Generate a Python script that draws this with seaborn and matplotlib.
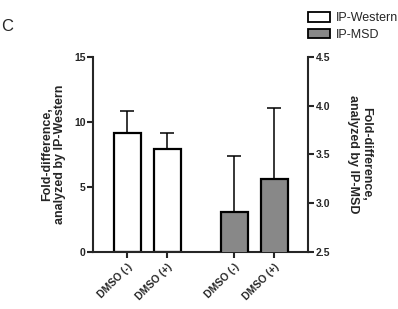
import seaborn as sns
import matplotlib.pyplot as plt
from matplotlib.patches import Patch
import numpy as np

# datos
labels = ["DMSO (-)", "DMSO (+)", "DMSO (-)", "DMSO (+)"]
western_mean = [9.15, 7.9]
western_err = [1.65, 1.25]
msd_mean = [2.91, 3.25]
msd_err = [0.57, 0.73]

sns.set_style("ticks")
plt.rcParams["font.family"] = ["Liberation Sans", "DejaVu Sans"]

fig = plt.figure(figsize=(3.98, 3.09), dpi=100)
ax = fig.add_axes([0.234, 0.185, 0.54, 0.631])
ax2 = ax.twinx()

w = 0.675
pos_w = np.array([0.0, 1.0])
pos_m = pos_w + 1.675 + 1.0

sns.barplot(x=pos_w, y=western_mean, native_scale=True, width=w, color="white",
            edgecolor="black", linewidth=1.6, errorbar=None, ax=ax)
ax.errorbar(pos_w, western_mean, yerr=[np.zeros(2), western_err], fmt="none",
            ecolor="black", elinewidth=1.1, capsize=4.8, capthick=1.1, zorder=1)
sns.barplot(x=pos_m, y=msd_mean, native_scale=True, width=w, color="#888888",
            saturation=1, edgecolor="black", linewidth=1.6, errorbar=None, ax=ax2)
ax2.errorbar(pos_m, msd_mean, yerr=[np.zeros(2), msd_err], fmt="none",
             ecolor="black", elinewidth=1.1, capsize=4.8, capthick=1.1, zorder=1)

ax.set_ylim(0, 15)
ax.set_yticks([0, 5, 10, 15])
ax2.set_ylim(2.5, 4.5)
ax2.set_yticks([2.5, 3.0, 3.5, 4.0, 4.5])
ax2.set_yticklabels(["2.5", "3.0", "3.5", "4.0", "4.5"])
ax.set_xlim(-0.85, pos_m[-1] + 0.85)
ax2.set_xlim(-0.85, pos_m[-1] + 0.85)

ax.set_xticks(np.concatenate([pos_w, pos_m]))
ax.set_xticklabels(labels, rotation=45, ha="right", rotation_mode="anchor",
                   fontsize=7.5, fontweight="bold")
for t in ax.get_yticklabels() + ax2.get_yticklabels():
    t.set_fontweight("bold")
    t.set_fontsize(7.5)

for a in (ax, ax2):
    for s in a.spines.values():
        s.set_linewidth(1.5)
    a.tick_params(width=1.5, length=4, pad=1.5)
ax.tick_params(axis="x", pad=3)
ax.spines["top"].set_visible(False)
ax.spines["right"].set_visible(False)
ax2.spines["top"].set_visible(False)
ax2.spines["left"].set_visible(False)
ax2.spines["bottom"].set_visible(False)

ax.set_xlabel("")
ax.set_ylabel("Fold-difference,\nanalyzed by IP-Western", fontsize=9,
              fontweight="bold", labelpad=6, linespacing=1.1)
ax2.set_ylabel("Fold-difference,\nanalyzed by IP-MSD", fontsize=9,
               fontweight="bold", rotation=270, labelpad=30, linespacing=1.1)

fig.text(0.003, 0.9, "C", fontsize=12)

handles = [Patch(facecolor="white", edgecolor="black", linewidth=1.3, label="IP-Western"),
           Patch(facecolor="#888888", edgecolor="black", linewidth=1.3, label="IP-MSD")]
fig.legend(handles=handles, loc="upper left", bbox_to_anchor=(0.755, 0.985),
           frameon=False, fontsize=9, handlelength=1.75, handleheight=0.8,
           handletextpad=0.45, labelspacing=0.35, borderaxespad=0.2)

fig.savefig("out.png", dpi=100)
